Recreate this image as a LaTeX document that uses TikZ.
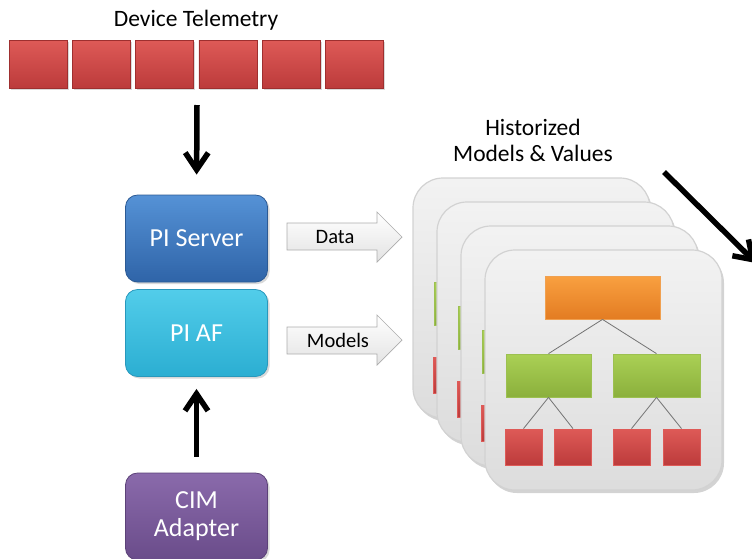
\documentclass[tikz,border=0pt]{standalone}
\usepackage{fontspec}
\setmainfont{Carlito}
\usetikzlibrary{arrows.meta,shadows,calc}
\definecolor{srvT}{HTML}{5592D6}
\definecolor{srvB}{HTML}{2F64A8}
\definecolor{srvD}{HTML}{2C5A94}
\definecolor{afT}{HTML}{52CDEA}
\definecolor{afB}{HTML}{2BAED2}
\definecolor{afD}{HTML}{2898BC}
\definecolor{cimT}{HTML}{8A6AAB}
\definecolor{cimB}{HTML}{6A4C8A}
\definecolor{cimD}{HTML}{5C4278}
\definecolor{redT}{HTML}{DE5A57}
\definecolor{redB}{HTML}{BC3B3B}
\definecolor{redD}{HTML}{9E2F2F}
\definecolor{orT}{HTML}{F9A040}
\definecolor{orB}{HTML}{E37C22}
\definecolor{orD}{HTML}{F0A050}
\definecolor{grT}{HTML}{AAD055}
\definecolor{grB}{HTML}{8BB03C}
\definecolor{grD}{HTML}{9CC050}
\tikzset{
  txt/.style={font=\fontsize{23.5}{26}\selectfont, align=center},
  telesq/.style={draw=redD, line width=0.6pt, top color=redT, bottom color=redB,
    minimum width=58pt, minimum height=48pt, inner sep=0pt,
    drop shadow={opacity=0.3, shadow xshift=1.5pt, shadow yshift=-1.5pt}},
  srvbox/.style={rounded corners=12pt, minimum width=142pt, minimum height=87pt,
    text=white, font=\fontsize{26}{28}\selectfont, align=center, line width=0.8pt,
    drop shadow={opacity=0.3, shadow xshift=2pt, shadow yshift=-2pt}},
  bigarrow/.style={line width=5.5pt, -{Straight Barb[length=17pt,width=23pt]}},
  blockarrow/.style={draw=gray!65, line width=0.7pt, top color=white, bottom color=gray!22},
  lbl/.style={font=\fontsize{20.5}{24}\selectfont},
  card/.style={rounded corners=30pt, minimum width=237pt, minimum height=240pt,
    draw=gray!35, line width=1.2pt, top color=gray!10, bottom color=gray!27,
    drop shadow={opacity=0.35, shadow xshift=2pt, shadow yshift=-3pt}},
  orbox/.style={draw=orD, line width=0.8pt, top color=orT, bottom color=orB,
    minimum width=115pt, minimum height=43pt, inner sep=0pt},
  grbox/.style={draw=grD, line width=0.8pt, top color=grT, bottom color=grB,
    minimum height=43pt, inner sep=0pt},
  rdbox/.style={draw=redT, line width=0.8pt, top color=redT, bottom color=redB,
    minimum width=37pt, minimum height=36pt, inner sep=0pt},
  treeline/.style={draw=black!55, line width=0.8pt}
}
\begin{document}
\begin{tikzpicture}[x=1pt,y=-1pt]
\useasboundingbox (0,0) rectangle (752,558);
\clip (0,0) rectangle (752,558);

% Device telemetry
\node[txt] (tt) at (196,20) {Device Telemetry};
\foreach \i in {0,...,5} {
  \node[telesq] (tel\i) at (38+63.3*\i,64) {};
}

% servers
\node[srvbox, draw=srvD, top color=srvT, bottom color=srvB] (ps) at (196.5,238.5) {PI Server};
\node[srvbox, draw=afD, top color=afT, bottom color=afB] (paf) at (196.5,333) {PI AF};
\node[srvbox, draw=cimD, top color=cimT, bottom color=cimB] (cim) at (196.5,516.5) {CIM\\Adapter};

% vertical arrows
\coordinate (a1s) at (197,105);
\draw[bigarrow, shorten >=20pt] (a1s) -- (ps.north);
\draw[bigarrow, shorten <=16pt, shorten >=12pt] (cim.north) -- (paf.south);

% block arrows
\draw[blockarrow] (287,223) -- (377,223) -- (377,212) -- (402,237) -- (377,262) -- (377,250) -- (287,250) -- cycle;
\node[lbl] (dlab) at (335,236.5) {Data};
\draw[blockarrow] (287,327) -- (377,327) -- (377,315) -- (402,340) -- (377,365) -- (377,354) -- (287,354) -- cycle;
\node[lbl] (mlab) at (338,340) {Models};

% historized label
\node[txt] (hist) at (533,140) {Historized\\Models \& Values};

% stacked cards
\foreach \i in {0,...,3} {
  \begin{scope}[shift={(413+24*\i,178+24*\i)}]
    \node[card] (c\i) at (118.5,120) {};
    \node[orbox] (o\i) at (117.5,47.5) {};
    \node[grbox, minimum width=85pt] (gl\i) at (63.5,125.5) {};
    \node[grbox, minimum width=87pt] (gr\i) at (171.5,125.5) {};
    \node[rdbox] (r1\i) at (38.5,197) {};
    \node[rdbox] (r2\i) at (88,197) {};
    \node[rdbox] (r3\i) at (146.5,197) {};
    \node[rdbox] (r4\i) at (196.5,197) {};
    \draw[treeline] (o\i.south) -- (gl\i.north);
    \draw[treeline] (o\i.south) -- (gr\i.north);
    \draw[treeline] (gl\i.south) -- (r1\i.north);
    \draw[treeline] (gl\i.south) -- (r2\i.north);
    \draw[treeline] (gr\i.south) -- (r3\i.north);
    \draw[treeline] (gr\i.south) -- (r4\i.north);
  \end{scope}
}

% diagonal arrow
\coordinate (d1) at (664,172);
\coordinate (d2) at (756,263);
\draw[bigarrow] (d1) -- (d2);
\end{tikzpicture}
\end{document}
